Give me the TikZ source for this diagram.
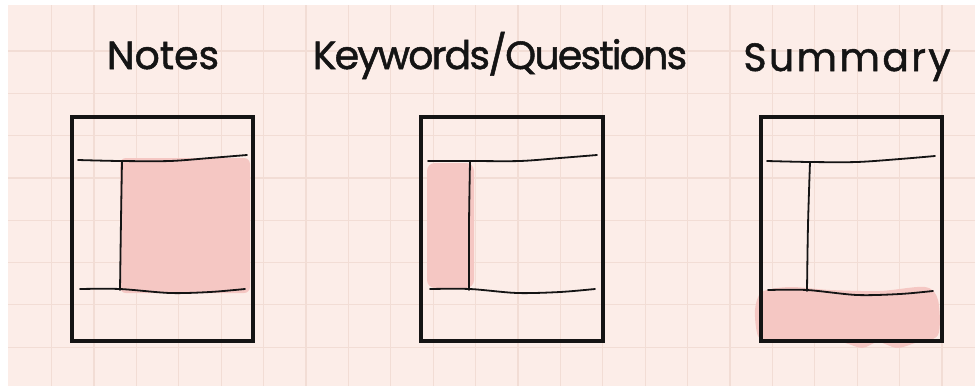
\documentclass[tikz,border=0pt]{standalone}
\usepackage{fontspec}
\setmainfont{Poppins}
\newfontfamily\handfont{Poppins}[FakeBold=1.3]
\usepackage{xcolor}
\definecolor{paperPink}{HTML}{FCEDE8}
\definecolor{gridPink}{HTML}{F2DDD5}
\definecolor{markerPink}{HTML}{F5C7C3}
\definecolor{inkBlack}{HTML}{141414}
\usepackage{tikz}
\usetikzlibrary{positioning}
\tikzset{
    % Handwritten heading over each sheet
    heading/.style={
        font=\handfont\fontsize{28}{32}\selectfont,
        text=inkBlack,
        anchor=base,
        inner sep=0pt,
    },
    % Outer border of a sheet
    sheet/.style={
        rectangle,
        draw=inkBlack,
        line width=1mm,
        minimum width=4.525cm,
        minimum height=5.6cm,
        inner sep=0pt,
    },
    % Ruled lines inside a sheet
    rule/.style={
        draw=inkBlack,
        line width=0.45mm,
        line cap=round,
    },
    % Highlighted area
    marker/.style={
        fill=markerPink,
        rounded corners=0.15cm,
    },
    % Squared paper
    gridline/.style={
        draw=gridPink,
        line width=0.3mm,
    },
}

\begin{document}
\begin{tikzpicture}[x=0.025cm, y=-0.025cm]
    \useasboundingbox (0,0) rectangle (975,389);
    \fill[paperPink] (8,5) rectangle (975,386);
    \foreach \k in {0,...,21}
        \draw[gridline] ({51.5+42.4*\k},5) -- ({51.5+42.4*\k},386);
    \foreach \k in {0,...,7}
        \draw[gridline] (8,{51+42.3*\k}) -- (975,{51+42.3*\k});

    % highlighted parts
    \fill[marker] (120,158) rectangle (250,293);
    \fill[marker, rounded corners=0.2cm] (427,163) rectangle (474,288);
    \fill[markerPink] plot[smooth cycle] coordinates {(762,292) (790,287) (830,290) (880,291) (925,287) (938,300) (938,335) (915,343) (897,348) (878,342) (862,348) (840,342) (800,342) (770,342) (758,336) (755,310)};

    % headings
    \node (notestitle) [heading] at (163,69) {Notes};
    \node (keytitle) [heading] at (500,69) {\addfontfeatures{LetterSpace=-4.5}Keywords/Questions};
    \node (sumtitle) [heading] at (847,71) {\addfontfeatures{LetterSpace=6}Summary};

    % sheets
    \node (notes) [sheet] at (162.5,229) {};
    \node (keywords) [sheet] at (512,229) {};
    \node (summary) [sheet] at (851.5,229) {};

    % ruled lines
    \draw[rule] plot[smooth] coordinates {(78,160) (120,161) (170,161) (210,158) (247,155)};
    \draw[rule] plot[smooth] coordinates {(122,161) (121,220) (120,290)};
    \draw[rule] plot[smooth] coordinates {(80,289) (120,289) (170,293) (210,292) (245,289)};

    \draw[rule] plot[smooth] coordinates {(428,161) (470,161) (520,161) (560,158) (597,155)};
    \draw[rule] plot[smooth] coordinates {(470,162) (469,225) (469,290)};
    \draw[rule] plot[smooth] coordinates {(430,289) (470,289) (517,293) (560,292) (595,289)};

    \draw[rule] plot[smooth] coordinates {(767,161) (810,162) (857,162) (900,159) (935,156)};
    \draw[rule] plot[smooth] coordinates {(810,162) (808,225) (807,291)};
    \draw[rule] plot[smooth] coordinates {(768,290) (807,290) (857,295) (900,294) (933,291)};
\end{tikzpicture}
\end{document}
